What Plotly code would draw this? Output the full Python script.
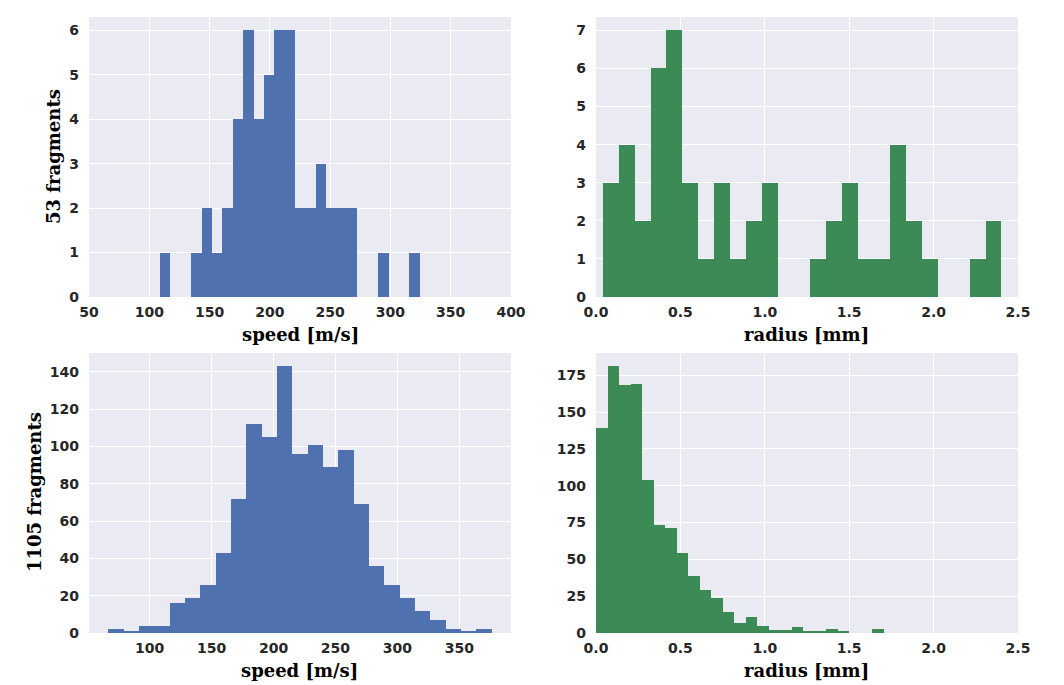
import plotly.graph_objects as go

# ---- data (histogram bins) ----
speed53_start = 108.9
speed53_width = 8.62
speed53_counts = [1, 0, 0, 1, 2, 1, 2, 4, 6, 4, 5, 6, 6, 2, 2, 3, 2, 2, 2, 0, 0, 1, 0, 0, 1]

radius53_start = 0.0395
radius53_width = 0.0945
radius53_counts = [3, 4, 2, 6, 7, 3, 1, 3, 1, 2, 3, 0, 0, 1, 2, 3, 1, 1, 4, 2, 1, 0, 0, 1, 2]

speed1105_start = 66.5
speed1105_width = 12.39
speed1105_counts = [2, 1, 4, 4, 16, 19, 26, 43, 72, 112, 105, 143, 96, 101, 89, 98, 69, 36, 26, 19, 12, 7, 2, 1, 2]

radius1105_start = 0.0
radius1105_width = 0.0682
radius1105_counts = [139, 181, 168, 169, 104, 73, 71, 54, 39, 29, 24, 14, 7, 11, 5, 2, 2, 4, 1, 1, 3, 1, 0, 0, 3]

speed_ticks_top = [50, 100, 150, 200, 250, 300, 350, 400]
speed_ticks_bottom = [100, 150, 200, 250, 300, 350]
radius_ticks = [0.0, 0.5, 1.0, 1.5, 2.0, 2.5]
y_ticks_tl = [0, 1, 2, 3, 4, 5, 6]
y_ticks_tr = [0, 1, 2, 3, 4, 5, 6, 7]
y_ticks_bl = [0, 20, 40, 60, 80, 100, 120, 140]
y_ticks_br = [0, 25, 50, 75, 100, 125, 150, 175]

BLUE = "#4F71B0"
GREEN = "#3C8A56"

W, H = 1064, 685


def px_x(p):
    return p / W


def px_y(p):
    return 1 - p / H


def centers(start, width, n):
    return [start + width * (i + 0.5) for i in range(n)]


fig = go.Figure()

panels = [
    (speed53_start, speed53_width, speed53_counts, BLUE, "x", "y"),
    (radius53_start, radius53_width, radius53_counts, GREEN, "x2", "y2"),
    (speed1105_start, speed1105_width, speed1105_counts, BLUE, "x3", "y3"),
    (radius1105_start, radius1105_width, radius1105_counts, GREEN, "x4", "y4"),
]
for start, width, counts, col, xa, ya in panels:
    fig.add_trace(go.Bar(
        x=centers(start, width, len(counts)), y=counts, width=width,
        marker=dict(color=col, line=dict(width=0)),
        xaxis=xa, yaxis=ya, showlegend=False, hoverinfo="x+y",
    ))

xdomL = [px_x(89), px_x(511)]
xdomR = [px_x(596), px_x(1018)]
ydomT = [px_y(297), px_y(17)]
ydomB = [px_y(633), px_y(353)]

tickfont = dict(family="DejaVu Sans", size=14, color="#262626", weight="bold")
common = dict(showgrid=True, gridcolor="white", gridwidth=1.3, zeroline=False,
              showline=False, ticks="", tickfont=tickfont, automargin=False)

s_bot_end = speed1105_start + speed1105_width * len(speed1105_counts)
span = s_bot_end - speed1105_start
bl_range = [speed1105_start - 0.05 * span, s_bot_end + 0.05 * span]

fig.update_layout(
    width=W, height=H,
    margin=dict(l=0, r=0, t=0, b=0),
    paper_bgcolor="white", plot_bgcolor="#EAEAF2",
    bargap=0,
    xaxis=dict(domain=xdomL, anchor="y", range=[50, 400], tickvals=speed_ticks_top,
               ticklabelstandoff=5, **common),
    yaxis=dict(domain=ydomT, anchor="x", range=[0, max(speed53_counts) * 1.05],
               tickvals=y_ticks_tl, ticklabelstandoff=9, **common),
    xaxis2=dict(domain=xdomR, anchor="y2", range=[0, 2.5], tickvals=radius_ticks,
                tickformat=".1f", ticklabelstandoff=5, **common),
    yaxis2=dict(domain=ydomT, anchor="x2", range=[0, max(radius53_counts) * 1.05],
                tickvals=y_ticks_tr, ticklabelstandoff=9, **common),
    xaxis3=dict(domain=xdomL, anchor="y3", range=bl_range, tickvals=speed_ticks_bottom,
                ticklabelstandoff=5, **common),
    yaxis3=dict(domain=ydomB, anchor="x3", range=[0, max(speed1105_counts) * 1.05],
                tickvals=y_ticks_bl, ticklabelstandoff=9, **common),
    xaxis4=dict(domain=xdomR, anchor="y4", range=[0, 2.5], tickvals=radius_ticks,
                tickformat=".1f", ticklabelstandoff=5, **common),
    yaxis4=dict(domain=ydomB, anchor="x4", range=[0, max(radius1105_counts) * 1.05],
                tickvals=y_ticks_br, ticklabelstandoff=9, **common),
)

titlefont = dict(family="DejaVu Serif", size=18, color="black", weight="bold")


def ann(text, x, y, angle=0):
    fig.add_annotation(text=text, x=px_x(x), y=px_y(y), xref="paper", yref="paper",
                       showarrow=False, textangle=angle, font=titlefont,
                       xanchor="center", yanchor="middle")


ann("speed [m/s]", 300, 334)
ann("radius [mm]", 806, 334)
ann("speed [m/s]", 299, 670)
ann("radius [mm]", 806, 670)
ann("53 fragments", 53, 157, -90)
ann("1105 fragments", 34, 492, -90)

fig.write_html(
    "out.html",
    config={"displayModeBar": False},
    post_script="document.body.style.margin='0';document.body.style.overflow='hidden';",
)
